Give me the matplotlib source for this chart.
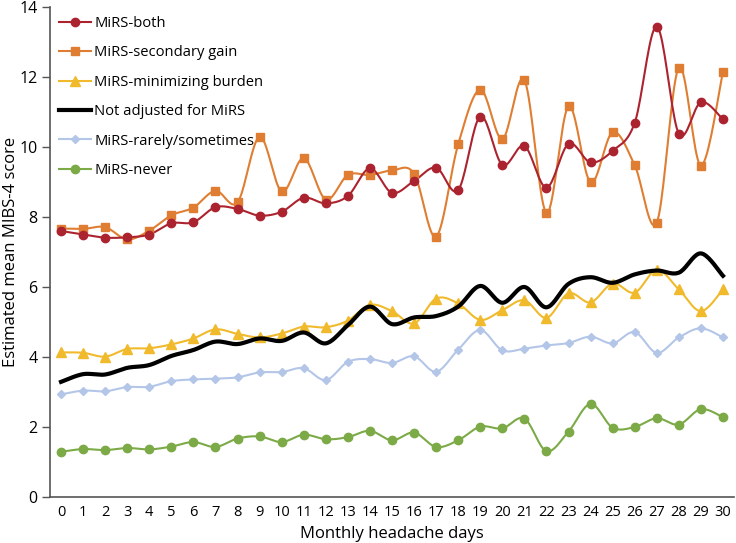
import numpy as np
import matplotlib
matplotlib.use("Agg")
import matplotlib.pyplot as plt
from matplotlib.lines import Line2D

plt.rcParams['font.family'] = ['Open Sans', 'DejaVu Sans']

days = list(range(0, 31))

mirs_both = [7.6, 7.5, 7.41, 7.42, 7.5, 7.82, 7.85, 8.28, 8.23, 8.04, 8.15,
             8.55, 8.39, 8.6, 9.39, 8.69, 9.03, 9.41, 8.77, 10.87, 9.49,
             10.03, 8.84, 10.09, 9.56, 9.89, 10.69, 13.44, 10.38, 11.28, 10.79]
mirs_secondary = [7.67, 7.66, 7.71, 7.36, 7.61, 8.05, 8.27, 8.75, 8.42, 10.29, 8.73,
                  9.68, 8.5, 9.2, 9.2, 9.33, 9.24, 7.44, 10.08, 11.64, 10.23,
                  11.91, 8.12, 11.16, 8.99, 10.42, 9.48, 7.84, 12.27, 9.47, 12.14]
mirs_minimizing = [4.13, 4.12, 4.01, 4.23, 4.25, 4.36, 4.53, 4.79, 4.66, 4.56, 4.67,
                   4.87, 4.85, 5.04, 5.49, 5.31, 4.96, 5.67, 5.53, 5.06, 5.34,
                   5.62, 5.12, 5.82, 5.56, 6.1, 5.84, 6.49, 5.93, 5.31, 5.93]
not_adjusted = [3.29, 3.51, 3.5, 3.69, 3.77, 4.03, 4.2, 4.44, 4.37, 4.53, 4.46,
                4.7, 4.39, 4.91, 5.44, 4.94, 5.13, 5.17, 5.44, 6.03, 5.55,
                6.0, 5.42, 6.09, 6.28, 6.12, 6.36, 6.47, 6.41, 6.96, 6.32]
mirs_rarely = [2.93, 3.04, 3.02, 3.14, 3.15, 3.31, 3.36, 3.38, 3.42, 3.56, 3.57,
               3.68, 3.34, 3.86, 3.94, 3.83, 4.02, 3.58, 4.21, 4.77, 4.19,
               4.24, 4.33, 4.4, 4.58, 4.39, 4.71, 4.12, 4.56, 4.82, 4.56]
mirs_never = [1.29, 1.37, 1.34, 1.4, 1.36, 1.44, 1.57, 1.43, 1.67, 1.73, 1.57,
              1.78, 1.65, 1.71, 1.89, 1.62, 1.84, 1.43, 1.62, 2.01, 1.96,
              2.24, 1.31, 1.87, 2.66, 1.98, 2.0, 2.25, 2.07, 2.51, 2.28]

labels = ["MiRS-both", "MiRS-secondary gain", "MiRS-minimizing burden",
          "Not adjusted for MiRS", "MiRS-rarely/sometimes", "MiRS-never"]


def smooth(x, y, n=20):
    x = np.asarray(x, float)
    y = np.asarray(y, float)
    P = np.column_stack([x, y])
    out = []
    for i in range(len(P) - 1):
        p0 = P[i - 1] if i > 0 else P[i]
        p1 = P[i]
        p2 = P[i + 1]
        p3 = P[i + 2] if i + 2 < len(P) else P[i + 1]
        c1 = p1 + (p2 - p0) / 6.0
        c2 = p2 - (p3 - p1) / 6.0
        t = np.linspace(0, 1, n, endpoint=(i == len(P) - 2))[:, None]
        seg = ((1 - t) ** 3) * p1 + 3 * ((1 - t) ** 2) * t * c1 + 3 * (1 - t) * t ** 2 * c2 + t ** 3 * p2
        out.append(seg)
    out = np.vstack(out)
    return out[:, 0], out[:, 1]


fig = plt.figure(figsize=(7.36, 5.43), dpi=100)
ax = fig.add_axes([50 / 736, 1 - 497 / 543, 684 / 736, 490 / 543])

series = [
    (mirs_never, "#7BAA47", "o", 6.0, 1.5, labels[5]),
    (mirs_rarely, "#B4C6E8", "D", 4.5, 1.5, labels[4]),
    (mirs_minimizing, "#F0BA2C", "^", 6.5, 1.5, labels[2]),
    (mirs_secondary, "#DF7E32", "s", 6.0, 1.5, labels[1]),
    (mirs_both, "#AC2330", "o", 6.0, 1.5, labels[0]),
]

handles = {}
for vals, col, mk, ms, lw, lab in series:
    sx, sy = smooth(days, vals)
    ax.plot(sx, sy, color=col, lw=lw, zorder=2)
    ax.plot(days, vals, ls='none', marker=mk, ms=ms, color=col, mec=col, zorder=3)
    handles[lab] = Line2D([], [], color=col, lw=lw, marker=mk, ms=ms, mec=col)

bx, by = smooth(days, not_adjusted)
ax.plot(bx, by, color='black', lw=3, zorder=4)
handles[labels[3]] = Line2D([], [], color='black', lw=3)

ax.set_xlim(-0.5, 30.5)
ax.set_ylim(0, 14)
ax.set_xticks(days)
ax.set_xticklabels([str(d) for d in days], fontsize=10.5)
ax.set_yticks(range(0, 15, 2))
ax.tick_params(axis='y', labelsize=11.5, length=5.5, width=1, color='#555555')
ax.tick_params(axis='x', length=0, pad=6)
for s in ['top', 'right']:
    ax.spines[s].set_visible(False)
for s in ['left', 'bottom']:
    ax.spines[s].set_color('#555555')
    ax.spines[s].set_linewidth(1.2)

ax.set_xlabel("Monthly headache days", fontsize=12, labelpad=4)
ax.set_ylabel("Estimated mean MIBS-4 score", fontsize=12)
ax.yaxis.set_label_coords(-31 / 684, 0.5)

leg = ax.legend([handles[l] for l in labels], labels, loc='upper left',
                bbox_to_anchor=(0.0, 1.0), frameon=False, fontsize=10.6,
                handlelength=2.2, handletextpad=0.2, labelspacing=0.98,
                borderaxespad=0.2)

fig.savefig("out.png", dpi=100)
